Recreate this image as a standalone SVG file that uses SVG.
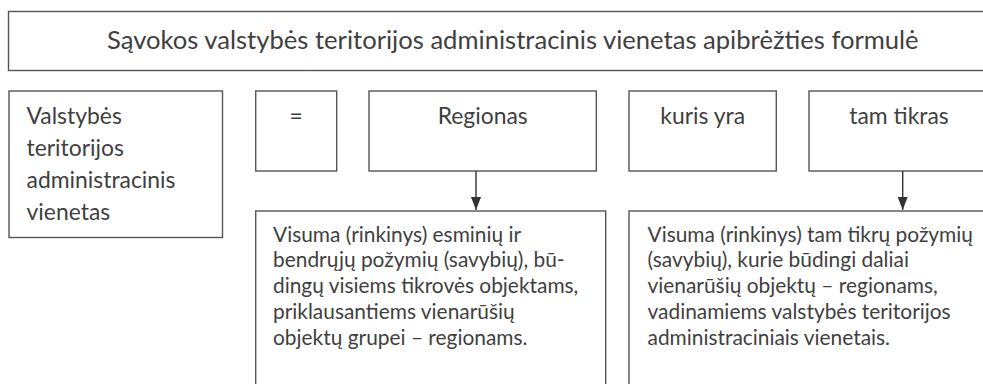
<svg xmlns="http://www.w3.org/2000/svg" width="983" height="384" viewBox="0 0 983 384">
<style>
.box{fill:#fff;stroke:#555;stroke-width:1.4}
.t{font-family:Lato,"Liberation Sans",sans-serif;fill:#3f3f3f}
.big{font-size:22.9px}
.title{font-size:25.6px}
.sm{font-size:20.9px}
.c{text-anchor:middle}
.conn{stroke:#333;stroke-width:1.4;fill:none}
</style>
<defs>
<marker id="ah" markerWidth="13" markerHeight="10" refX="13" refY="5" orient="auto" markerUnits="userSpaceOnUse" viewBox="0 0 13 10">
<path d="M0,0 L13,5 L0,10 Z" fill="#333"/>
</marker>
</defs>
<rect width="983" height="384" fill="#fff"/>
<g id="title">
<rect class="box" x="8.5" y="11.5" width="990" height="59"/>
<text class="t title" x="107" y="49">Sąvokos valstybės teritorijos administracinis vienetas apibrėžties formulė</text>
</g>
<g id="term">
<rect class="box" x="9" y="91" width="213.5" height="146.5"/>
<text class="t big" x="26.5" y="123.5">Valstybės</text>
<text class="t big" x="26.5" y="155.7">teritorijos</text>
<text class="t big" x="26.5" y="187.9">administracinis</text>
<text class="t big" x="26.5" y="220.1">vienetas</text>
</g>
<g id="eq">
<rect class="box" x="255.7" y="91" width="81" height="80"/>
<text class="t big c" x="296.2" y="123.5">=</text>
</g>
<g id="regionas">
<rect class="box" x="369" y="91" width="227.3" height="80"/>
<text class="t big c" x="482.7" y="123.5">Regionas</text>
</g>
<g id="kuris">
<rect class="box" x="629" y="91" width="147.3" height="80"/>
<text class="t big c" x="702.7" y="123.5">kuris yra</text>
</g>
<g id="tamtikras">
<rect class="box" x="809" y="91" width="190" height="80"/>
<text class="t big c" x="899" y="123.5">tam tikras</text>
</g>
<g id="def1">
<rect class="box" x="255.7" y="211" width="350" height="190"/>
<text class="t sm" x="273" y="241.5">Visuma (rinkinys) esminių ir</text>
<text class="t sm" x="273" y="267.3">bendrųjų požymių (savybių), bū-</text>
<text class="t sm" x="273" y="293.1">dingų visiems tikrovės objektams,</text>
<text class="t sm" x="273" y="318.9">priklausantiems vienarūšių</text>
<text class="t sm" x="273" y="344.7">objektų grupei – regionams.</text>
</g>
<g id="def2">
<rect class="box" x="629" y="211" width="370" height="190"/>
<text class="t sm" x="647.5" y="241.5">Visuma (rinkinys) tam tikrų požymių</text>
<text class="t sm" x="647.5" y="267.3">(savybių), kurie būdingi daliai</text>
<text class="t sm" x="647.5" y="293.1">vienarūšių objektų – regionams,</text>
<text class="t sm" x="647.5" y="318.9">vadinamiems valstybės teritorijos</text>
<text class="t sm" x="647.5" y="344.7">administraciniais vienetais.</text>
</g>
<g id="connectors">
<line class="conn" x1="476" y1="171" x2="476" y2="210" marker-end="url(#ah)"/>
<line class="conn" x1="902.7" y1="171" x2="902.7" y2="210" marker-end="url(#ah)"/>
</g>
</svg>
